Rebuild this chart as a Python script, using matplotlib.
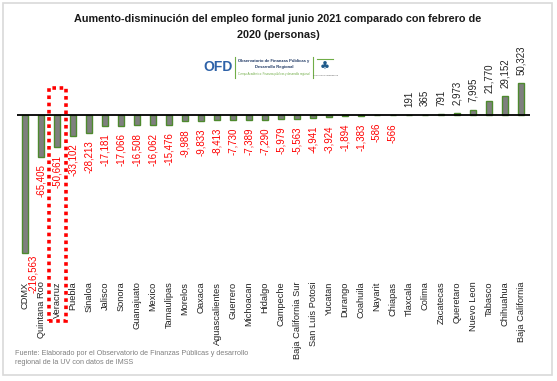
import matplotlib
matplotlib.use("Agg")
import matplotlib.pyplot as plt
from matplotlib.patches import Rectangle
from matplotlib.lines import Line2D

plt.rcParams['font.family'] = ['Liberation Sans', 'DejaVu Sans']

states = ["CDMX", "Quintana Roo", "Veracruz", "Puebla", "Sinaloa", "Jalisco", "Sonora",
          "Guanajuato", "Mexico", "Tamaulipas", "Morelos", "Oaxaca", "Aguascalientes",
          "Guerrero", "Michoacan", "Hidalgo", "Campeche", "Baja California Sur",
          "San Luis Potosi", "Yucatan", "Durango", "Coahuila", "Nayarit", "Chiapas",
          "Tlaxcala", "Colima", "Zacatecas", "Queretaro", "Nuevo Leon", "Tabasco",
          "Chihuahua", "Baja California"]
values = [-216563, -65405, -50661, -33102, -28213, -17181, -17066, -16508, -16062,
          -15476, -9988, -9833, -8413, -7730, -7389, -7290, -5979, -5563, -4941,
          -3924, -1894, -1383, -586, -566, 191, 365, 791, 2973, 7995, 21770,
          29152, 50323]
title = "Aumento-disminución del empleo formal junio 2021 comparado con febrero de\n2020 (personas)"
source = "Fuente: Elaborado por el Observatorio de Finanzas Públicas y desarrollo\nregional de la UV con datos de IMSS"
highlight = "Veracruz"

W, H = 557, 381
fig = plt.figure(figsize=(W / 100, H / 100), dpi=100)
fig.patch.set_facecolor("white")

def fx(x):
    return x / W

def fy(y):
    return 1 - y / H

# outer border
fig.patches.append(Rectangle((fx(3), fy(375)), fx(549), (372) / H, transform=fig.transFigure,
                             fill=False, edgecolor="#d9d9d9", lw=1.2))

ax_top, ax_bot = 80, 260
ax = fig.add_axes([fx(17), fy(ax_bot), fx(530 - 17), (ax_bot - ax_top) / H])
ax.set_xlim(-0.5, 31.56)
ax.set_ylim(-228000, 55000)
ax.set_facecolor("none")

x = list(range(len(states)))
ax.bar(x, values, width=0.33, color="#7f7f7f", edgecolor="#4e8a2e", linewidth=1.0, zorder=2)
ax.axhline(0, color="black", lw=1.3, zorder=3)

for s in ["top", "right", "left", "bottom"]:
    ax.spines[s].set_visible(False)
ax.set_yticks([])
ax.set_xticks(x)
ax.set_xticklabels(states, rotation=90, fontsize=6.7, color="#222222")
ax.tick_params(axis="x", length=0, pad=15.5)

for i, (xi, v) in enumerate(zip(x, values)):
    if v < 0:
        # the longest bar's label is nudged right of its category label
        off = (6, -1.5) if i == 0 else (0, -5.5)
        ax.annotate(f"{v:,}", (xi, v), xytext=off, textcoords="offset points",
                    rotation=90, ha="center", va="top", fontsize=7, color="#ff0000",
                    annotation_clip=False, zorder=4)
    else:
        ax.annotate(f"{v:,}", (xi, v), xytext=(0, 6), textcoords="offset points",
                    rotation=90, ha="center", va="bottom", fontsize=7, color="#222222",
                    annotation_clip=False)

# highlight rectangle around Veracruz
hi = states.index(highlight)
fig.patches.append(Rectangle((fx(49), fy(321)), fx(17), (321 - 88) / H, transform=fig.transFigure,
                             fill=False, edgecolor="#ff0000", lw=2.6, linestyle=(0, (1, 1))))

# title
fig.text(fx(278), fy(27), title, ha="center", va="center", fontsize=7.8,
         fontweight="bold", color="#1a1a1a", linespacing=1.75)

# logo
fig.text(fx(203), fy(67), "OFD", ha="left", va="center", fontsize=10, fontweight="bold",
         color="#2e62a8")
fig.lines.append(Line2D([fx(235), fx(235)], [fy(57), fy(78)], transform=fig.transFigure,
                        color="#70ad47", lw=0.8))
fig.lines.append(Line2D([fx(313), fx(313)], [fy(57), fy(78)], transform=fig.transFigure,
                        color="#70ad47", lw=0.8))
fig.text(fx(274), fy(61), "Observatorio de Finanzas Públicas y", ha="center", va="center",
         fontsize=3, color="#1f3864", fontweight="bold")
fig.text(fx(274), fy(67), "Desarrollo Regional", ha="center", va="center",
         fontsize=3, color="#1f3864", fontweight="bold")
fig.text(fx(274), fy(74), "Cuerpo Académico: Finanzas públicas y desarrollo regional",
         ha="center", va="center", fontsize=2, color="#70ad47")
fig.lines.append(Line2D([fx(317), fx(333)], [fy(59), fy(59)], transform=fig.transFigure,
                        color="#70ad47", lw=0.8))
fig.text(fx(325), fy(67), "♣", ha="center", va="center", fontsize=8, color="#1f5a8a",
         family=["DejaVu Sans"])
fig.text(fx(325), fy(75), "Universidad Veracruzana", ha="center", va="center",
         fontsize=1.6, color="#555555")

# source
fig.text(fx(15), fy(358), source, ha="left", va="center", fontsize=5.2, color="#808080",
         linespacing=1.5)

fig.savefig("out.png", dpi=100)
